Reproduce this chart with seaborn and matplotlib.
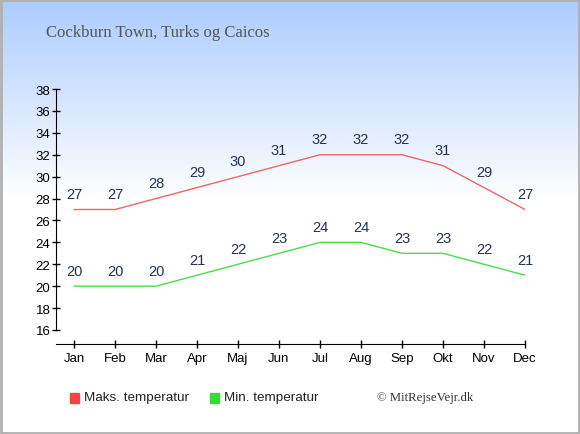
import numpy as np
import pandas as pd
import matplotlib
matplotlib.use('Agg')
import matplotlib.pyplot as plt
import seaborn as sns

months = ['Jan', 'Feb', 'Mar', 'Apr', 'Maj', 'Jun', 'Jul', 'Aug', 'Sep', 'Okt', 'Nov', 'Dec']
max_temp = [27, 27, 28, 29, 30, 31, 32, 32, 32, 31, 29, 27]
min_temp = [20, 20, 20, 21, 22, 23, 24, 24, 23, 23, 22, 21]
yticks = list(range(16, 39, 2))

df = pd.DataFrame({'idx': list(range(12)) * 2,
                   'temp': max_temp + min_temp,
                   'serie': ['Maks. temperatur'] * 12 + ['Min. temperatur'] * 12})

sns.set_style('white')
plt.rcParams['font.family'] = ['Liberation Sans', 'DejaVu Sans']

fig = plt.figure(figsize=(5.8, 4.35), dpi=100)

# background gradient (light blue -> white)
bg = fig.add_axes([0, 0, 1, 1], zorder=-10)
h = 435
yy = np.arange(h)
t = np.clip(yy / 200.0, 0, 1)
top = np.array([0.67, 0.80, 1.0])
grad = top[None, :] * (1 - t[:, None]) + np.ones(3)[None, :] * t[:, None]
img = np.repeat(grad[:, None, :], 2, axis=1)
bg.imshow(img, aspect='auto', extent=[0, 1, 0, 1], origin='upper')
bg.set_xlim(0, 1)
bg.set_ylim(0, 1)
bg.axis('off')
bg.add_patch(plt.Rectangle((0.002, 0.003), 0.996, 0.994, fill=False,
                           edgecolor='#b0b0b0', linewidth=2))

ax = fig.add_axes([56 / 580, 1 - 331 / 435, 469 / 580, 241 / 435])
ax.patch.set_alpha(0)
palette = {'Maks. temperatur': '#f06666', 'Min. temperatur': '#44e044'}
sns.lineplot(data=df, x='idx', y='temp', hue='serie', palette=palette,
             linewidth=1, ax=ax, legend=False)

for i in range(12):
    ax.annotate(str(max_temp[i]), (i, max_temp[i]), xytext=(0, 6),
                textcoords='offset points', ha='center', va='bottom',
                fontsize=10.5, color='#223355')
    ax.annotate(str(min_temp[i]), (i, min_temp[i]), xytext=(0, 6),
                textcoords='offset points', ha='center', va='bottom',
                fontsize=10.5, color='#223355')

ax.set_xlim(-18 / 41, 11)
ax.set_ylim(16, 38)
ax.set_xticks(range(12))
ax.set_xticklabels(months)
ax.set_yticks(yticks)
ax.set_xlabel('')
ax.set_ylabel('')
for s in ['top', 'right']:
    ax.spines[s].set_visible(False)
ax.spines['left'].set_color('black')
ax.spines['bottom'].set_color('black')
ax.spines['bottom'].set_position(('outward', 10))
ax.tick_params(axis='both', direction='inout', length=6, width=1,
               labelsize=9.5, colors='black', bottom=True, left=True)
ax.tick_params(axis='x', pad=3)
ax.tick_params(axis='y', pad=1)

fig.text(46 / 580, 1 - 33 / 435, 'Cockburn Town, Turks og Caicos',
         family='Liberation Serif', fontsize=12, color='#555555',
         ha='left', va='center')

# legend
fig.patches.append(plt.Rectangle((70 / 580, 1 - 404 / 435), 9 / 580, 10 / 435,
                                 transform=fig.transFigure, color='#ee4444'))
fig.text(84 / 580, 1 - 398 / 435, 'Maks. temperatur', fontsize=9.7,
         ha='left', va='center', color='#222222')
fig.patches.append(plt.Rectangle((210 / 580, 1 - 404 / 435), 9 / 580, 10 / 435,
                                 transform=fig.transFigure, color='#33dd33'))
fig.text(224 / 580, 1 - 398 / 435, 'Min. temperatur', fontsize=9.7,
         ha='left', va='center', color='#222222')
fig.text(377 / 580, 1 - 398 / 435, '© MitRejseVejr.dk', family='Liberation Serif',
         fontsize=9.2, ha='left', va='center', color='#333333')

fig.savefig('out.png', dpi=100)
